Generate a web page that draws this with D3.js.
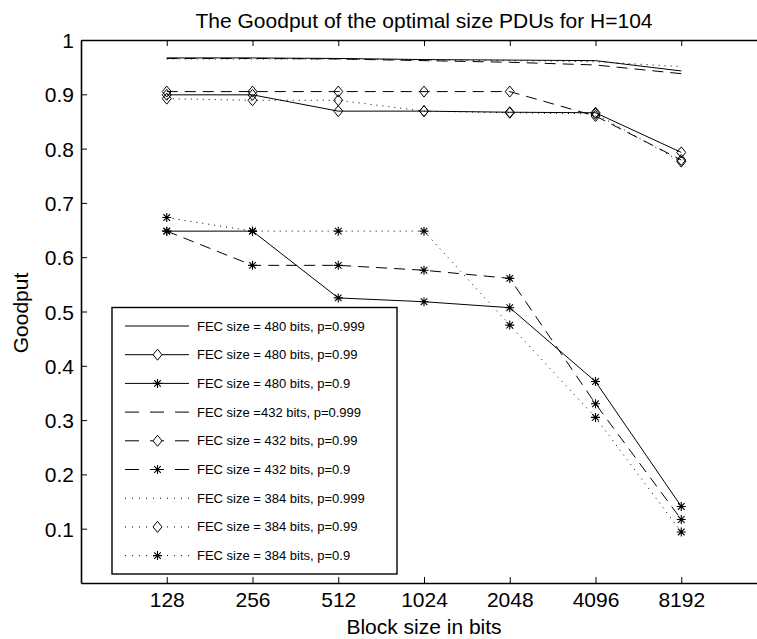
<!DOCTYPE html>
<html>
<head>
<meta charset="utf-8">
<script src="https://cdn.jsdelivr.net/npm/d3@7"></script>
<style>
  body { margin: 0; background: #fff; }
  svg text { font-family: "Liberation Sans", Arial, Helvetica, sans-serif; fill: #000; }
</style>
</head>
<body>
<svg id="chart" width="757" height="639"></svg>
<script>
"use strict";

// block sizes on the x axis (log2 spaced)
var blockSizes = [128, 256, 512, 1024, 2048, 4096, 8192];
var yTicks = [0.1, 0.2, 0.3, 0.4, 0.5, 0.6, 0.7, 0.8, 0.9, 1];

// goodput values
var fec480_p999 = [0.967, 0.967, 0.966, 0.964, 0.963, 0.962, 0.943];
var fec480_p99  = [0.899, 0.899, 0.869, 0.869, 0.867, 0.866, 0.793];
var fec480_p9   = [0.648, 0.648, 0.525, 0.518, 0.507, 0.371, 0.141];
var fec432_p999 = [0.966, 0.966, 0.965, 0.962, 0.959, 0.954, 0.938];
var fec432_p99  = [0.905, 0.905, 0.905, 0.905, 0.905, 0.860, 0.779];
var fec432_p9   = [0.648, 0.585, 0.585, 0.576, 0.561, 0.330, 0.117];
var fec384_p999 = [0.965, 0.965, 0.965, 0.963, 0.962, 0.960, 0.951];
var fec384_p99  = [0.892, 0.889, 0.889, 0.869, 0.866, 0.864, 0.776];
var fec384_p9   = [0.673, 0.648, 0.648, 0.648, 0.475, 0.305, 0.094];

var seriesLabels = [
  "FEC size = 480 bits, p=0.999",
  "FEC size = 480 bits, p=0.99",
  "FEC size = 480 bits, p=0.9",
  "FEC size =432 bits, p=0.999",
  "FEC size = 432 bits, p=0.99",
  "FEC size = 432 bits, p=0.9",
  "FEC size = 384 bits, p=0.999",
  "FEC size = 384 bits, p=0.99",
  "FEC size = 384 bits, p=0.9"
];

// line style / marker per series
var dashes = { solid: null, dashed: "11,7", dotted: "1,5" };
var series = [
  { values: fec480_p999, style: "solid",  marker: null },
  { values: fec480_p99,  style: "solid",  marker: "diamond" },
  { values: fec480_p9,   style: "solid",  marker: "star" },
  { values: fec432_p999, style: "dashed", marker: null },
  { values: fec432_p99,  style: "dashed", marker: "diamond" },
  { values: fec432_p9,   style: "dashed", marker: "star" },
  { values: fec384_p999, style: "dotted", marker: null },
  { values: fec384_p99,  style: "dotted", marker: "diamond" },
  { values: fec384_p9,   style: "dotted", marker: "star" }
];
series.forEach(function(s, i) { s.label = seriesLabels[i]; });

var svg = d3.select("#chart");
var plotLeft = 81, plotRight = 767, plotTop = 40, plotBottom = 583;

var x = d3.scaleLog().base(2).domain([64, 16384]).range([plotLeft, plotRight]);
var y = d3.scaleLinear().domain([0, 1]).range([plotBottom, plotTop]);

// marker drawing
function drawMarker(g, type) {
  if (type === "diamond") {
    g.append("path")
      .attr("d", "M0,-5.5L4.5,0L0,5.5L-4.5,0Z")
      .attr("fill", "none")
      .attr("stroke", "#000")
      .attr("stroke-width", 1);
  } else if (type === "star") {
    g.append("path")
      .attr("d", "M-4.5,0H4.5M0,-4.5V4.5M-3.3,-3.3L3.3,3.3M-3.3,3.3L3.3,-3.3")
      .attr("stroke", "#000")
      .attr("stroke-width", 1.1);
  }
}

// axes (ticks pointing inward, like matlab)
var fontSize = 21;
var xAxis = svg.append("g")
  .attr("transform", "translate(0," + plotBottom + ")")
  .call(d3.axisBottom(x).tickValues(blockSizes).tickFormat(d3.format("d"))
    .tickSizeInner(-6).tickSizeOuter(0).tickPadding(9));
var xTop = svg.append("g")
  .attr("transform", "translate(0," + plotTop + ")")
  .call(d3.axisTop(x).tickValues(blockSizes).tickFormat("")
    .tickSizeInner(-6).tickSizeOuter(0));
var yAxis = svg.append("g")
  .attr("transform", "translate(" + plotLeft + ",0)")
  .call(d3.axisLeft(y).tickValues(yTicks).tickFormat(function(d) { return String(+d.toFixed(1)); })
    .tickSizeInner(-6).tickSizeOuter(0).tickPadding(7));

[xAxis, xTop, yAxis].forEach(function(a) {
  a.attr("font-family", null).attr("font-size", null);
  a.selectAll("text").style("font-size", fontSize + "px");
  a.selectAll("path.domain").attr("stroke", "#000").attr("stroke-width", 1.6);
  a.selectAll(".tick line").attr("stroke", "#000").attr("stroke-width", 1);
});
yAxis.selectAll("text").attr("dy", "0.36em");

// series lines
var line = d3.line()
  .x(function(d, i) { return x(blockSizes[i]); })
  .y(function(d) { return y(d); });

var plot = svg.append("g").attr("class", "series");
series.forEach(function(s) {
  plot.append("path")
    .datum(s.values)
    .attr("d", line)
    .attr("fill", "none")
    .attr("stroke", "#000")
    .attr("stroke-width", 1)
    .attr("stroke-dasharray", dashes[s.style]);
  if (s.marker) {
    s.values.forEach(function(v, i) {
      var m = plot.append("g")
        .attr("transform", "translate(" + x(blockSizes[i]) + "," + y(v) + ")");
      drawMarker(m, s.marker);
    });
  }
});

// title and axis labels
svg.append("text")
  .attr("x", (plotLeft + plotRight) / 2).attr("y", 28)
  .attr("text-anchor", "middle")
  .style("font-size", "21px")
  .text("The Goodput of the optimal size PDUs for H=104");

svg.append("text")
  .attr("x", (plotLeft + plotRight) / 2).attr("y", 634)
  .attr("text-anchor", "middle")
  .style("font-size", "21px")
  .text("Block size in bits");

svg.append("text")
  .attr("transform", "translate(28,313) rotate(-90)")
  .attr("text-anchor", "middle")
  .style("font-size", "21px")
  .text("Goodput");

// legend
var legend = svg.append("g").attr("class", "legend");
legend.append("rect")
  .attr("x", 112).attr("y", 307.5)
  .attr("width", 285).attr("height", 266.5)
  .attr("fill", "#fff")
  .attr("stroke", "#000")
  .attr("stroke-width", 1.4);

var legendDashes = { solid: null, dashed: "14,11", dotted: "1,6" };
series.forEach(function(s, i) {
  var ry = 326 + i * 28.7;
  legend.append("line")
    .attr("x1", 125).attr("x2", 189)
    .attr("y1", ry).attr("y2", ry)
    .attr("stroke", "#000")
    .attr("stroke-width", 1)
    .attr("stroke-dasharray", legendDashes[s.style]);
  if (s.marker) {
    var m = legend.append("g").attr("transform", "translate(157.5," + ry + ")");
    drawMarker(m, s.marker);
    if (s.marker === "diamond") m.select("path").attr("fill", "#fff");
  }
  legend.append("text")
    .attr("x", 197).attr("y", ry)
    .attr("dy", "0.35em")
    .style("font-size", "13px")
    .text(s.label);
});
</script>
</body>
</html>
